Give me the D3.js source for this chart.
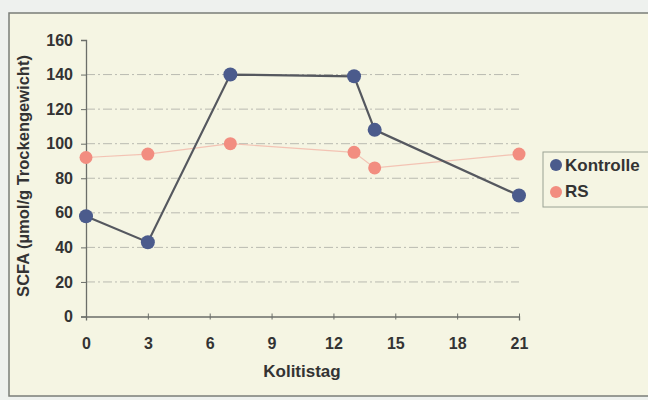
<!DOCTYPE html>
<html><head><meta charset="utf-8">
<script src="https://cdn.jsdelivr.net/npm/d3@7"></script>
<style>body{margin:0;background:#eef1ee;}svg{display:block;}</style>
</head><body>
<script>
const days = [0, 3, 7, 13, 14, 21];
const kontrolle = [58, 43, 140, 139, 108, 70];
const rs = [92, 94, 100, 95, 86, 94];
const xTicks = [0, 3, 6, 9, 12, 15, 18, 21];
const yTicks = [0, 20, 40, 60, 80, 100, 120, 140, 160];
const seriesNames = ["Kontrolle", "RS"];

const W = 648, H = 400;
const svg = d3.select("body").append("svg").attr("width", W).attr("height", H);
svg.append("rect").attr("width", W).attr("height", H).attr("fill", "#eef1ee");
svg.append("rect").attr("x", 9).attr("y", 13).attr("width", W - 8).attr("height", 383)
  .attr("fill", "#f5f5e3").attr("stroke", "#7a7d78").attr("stroke-width", 1.5);

const x = d3.scaleLinear().domain([0, 21]).range([86, 519]);
const y = d3.scaleLinear().domain([0, 160]).range([316.5, 40]);

// gridlines
svg.append("g").selectAll("line").data(yTicks.filter(d => d > 0 && d < 160)).join("line")
  .attr("x1", x(0)).attr("x2", x(21)).attr("y1", d => y(d)).attr("y2", d => y(d))
  .attr("stroke", "#b9bab0").attr("stroke-width", 1).attr("stroke-dasharray", "9,3,2,3");

const font = "'Liberation Sans', Arial, sans-serif";
// axes
const yAxis = svg.append("g").attr("transform", `translate(${x(0)},0)`)
  .call(d3.axisLeft(y).tickValues(yTicks).tickSize(5).tickPadding(8));
const xAxis = svg.append("g").attr("transform", `translate(0,${y(0)})`)
  .call(d3.axisBottom(x).tickValues(xTicks).tickSize(4).tickPadding(17));
[yAxis, xAxis].forEach(g => {
  g.select(".domain").attr("stroke", "#6b6e69").attr("stroke-width", 1.3);
  g.selectAll(".tick line").attr("stroke", "#6b6e69");
  g.selectAll("text").attr("font-family", font).attr("font-weight", "bold")
    .attr("font-size", 16).attr("fill", "#333");
});
xAxis.selectAll(".tick line").attr("y1", -3).attr("y2", 3);

svg.append("text").attr("x", 302).attr("y", 377).attr("text-anchor", "middle")
  .attr("font-family", font).attr("font-weight", "bold").attr("font-size", 17).attr("fill", "#333")
  .text("Kolitistag");
svg.append("text").attr("transform", "translate(29,176) rotate(-90)").attr("text-anchor", "middle")
  .attr("font-family", font).attr("font-weight", "bold").attr("font-size", 16.5).attr("fill", "#333")
  .text("SCFA (µmol/g Trockengewicht)");

const line = d3.line().x(d => x(d[0])).y(d => y(d[1]));
const rsData = days.map((d, i) => [d, rs[i]]);
const kData = days.map((d, i) => [d, kontrolle[i]]);

svg.append("path").datum(rsData).attr("d", line).attr("fill", "none")
  .attr("stroke", "#f3b7a8").attr("stroke-width", 1.2).attr("opacity", 0.8);
svg.append("path").datum(kData).attr("d", line).attr("fill", "none")
  .attr("stroke", "#55585f").attr("stroke-width", 2.2);

svg.append("g").selectAll("circle").data(rsData).join("circle")
  .attr("cx", d => x(d[0])).attr("cy", d => y(d[1])).attr("r", 6.5).attr("fill", "#f28d80");
svg.append("g").selectAll("circle").data(kData).join("circle")
  .attr("cx", d => x(d[0])).attr("cy", d => y(d[1])).attr("r", 7).attr("fill", "#4b5b8c");

// legend
const lg = svg.append("g");
lg.append("rect").attr("x", 543).attr("y", 152).attr("width", 112).attr("height", 55)
  .attr("fill", "#f5f5e3").attr("stroke", "#9aa294").attr("stroke-width", 1);
const colors = ["#4b5b8c", "#f28d80"];
seriesNames.forEach((n, i) => {
  lg.append("circle").attr("cx", 556).attr("cy", 165 + i * 27).attr("r", 6).attr("fill", colors[i]);
  lg.append("text").attr("x", 565).attr("y", 171 + i * 26).attr("font-family", font)
    .attr("font-weight", "bold").attr("font-size", 17).attr("fill", "#333").text(n);
});
</script>
</body></html>
